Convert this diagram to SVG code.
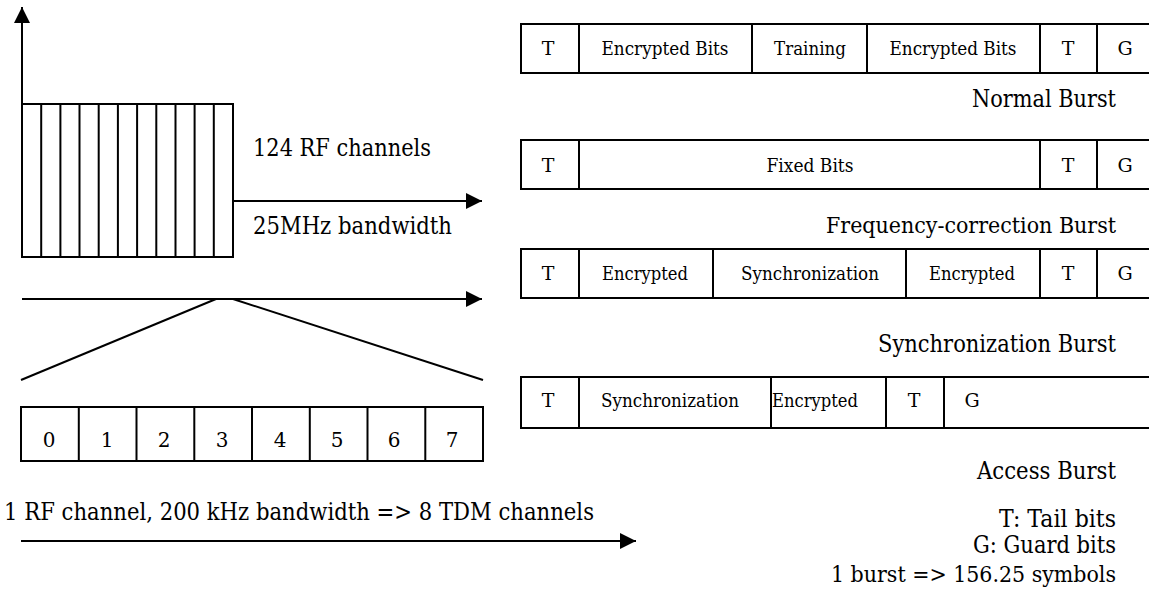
<svg xmlns="http://www.w3.org/2000/svg" width="1149" height="600" viewBox="0 0 1149 600">
<defs>
<style>
.ln{stroke:#000;stroke-width:2;fill:none}
.bx{stroke:#000;stroke-width:2;fill:#fff}
text{font-family:'DejaVu Serif',serif;fill:#000}
.big{font-size:23.5px}
.cell{font-size:19px;text-anchor:middle}
.dig{font-size:20px;text-anchor:middle}
.r{text-anchor:end}
</style>
<marker id="ah" markerUnits="userSpaceOnUse" markerWidth="16" markerHeight="16" refX="16" refY="8" orient="auto">
<path d="M0,0 L16,8 L0,16 z" fill="#000"/>
</marker>
</defs>
<rect width="1149" height="600" fill="#fff"/>

<g id="connectors">
<line class="ln" x1="22" y1="104" x2="22" y2="7" marker-end="url(#ah)"/>
<line class="ln" x1="233" y1="201" x2="482" y2="201" marker-end="url(#ah)"/>
<line class="ln" x1="22" y1="299" x2="482" y2="299" marker-end="url(#ah)"/>
<line class="ln" x1="216" y1="299" x2="21" y2="380"/>
<line class="ln" x1="233" y1="299" x2="483" y2="380"/>
<line class="ln" x1="21" y1="541" x2="636" y2="541" marker-end="url(#ah)"/>
</g>

<g id="rf-channels">
<rect class="bx" x="22" y="104" width="211" height="153"/>
<path class="ln" d="M41.2,104V257M60.4,104V257M79.5,104V257M98.7,104V257M117.9,104V257M137.1,104V257M156.3,104V257M175.5,104V257M194.6,104V257M213.8,104V257"/>
<text class="big" x="253" y="156" textLength="178" lengthAdjust="spacingAndGlyphs">124 RF channels</text>
<text class="big" x="253" y="234" textLength="199" lengthAdjust="spacingAndGlyphs">25MHz bandwidth</text>
</g>

<g id="tdm-slots">
<rect class="bx" x="21" y="407" width="462" height="54"/>
<path class="ln" d="M78.8,407V461M136.5,407V461M194.3,407V461M252,407V461M309.8,407V461M367.5,407V461M425.3,407V461"/>
<text class="dig" x="49" y="447">0</text>
<text class="dig" x="107" y="447">1</text>
<text class="dig" x="164" y="447">2</text>
<text class="dig" x="222" y="447">3</text>
<text class="dig" x="280" y="447">4</text>
<text class="dig" x="337" y="447">5</text>
<text class="dig" x="394" y="447">6</text>
<text class="dig" x="452" y="447">7</text>
<text class="big" x="4" y="520" textLength="590" lengthAdjust="spacingAndGlyphs">1 RF channel, 200 kHz bandwidth =&gt; 8 TDM channels</text>
</g>

<g id="normal-burst">
<path class="ln" d="M1149,24H521V73H1149M579,24V73M752,24V73M867,24V73M1040,24V73M1097,24V73"/>
<text class="cell" x="548" y="55">T</text>
<text class="cell" x="665" y="55" textLength="127" lengthAdjust="spacingAndGlyphs">Encrypted Bits</text>
<text class="cell" x="810" y="55" textLength="72" lengthAdjust="spacingAndGlyphs">Training</text>
<text class="cell" x="953" y="55" textLength="127" lengthAdjust="spacingAndGlyphs">Encrypted Bits</text>
<text class="cell" x="1068" y="55">T</text>
<text class="cell" x="1125" y="55">G</text>
<text class="big r" x="1116" y="107" textLength="144" lengthAdjust="spacingAndGlyphs">Normal Burst</text>
</g>

<g id="frequency-correction-burst">
<path class="ln" d="M1149,140H521V189H1149M579,140V189M1040,140V189M1097,140V189"/>
<text class="cell" x="548" y="172">T</text>
<text class="cell" x="810" y="172" textLength="87" lengthAdjust="spacingAndGlyphs">Fixed Bits</text>
<text class="cell" x="1068" y="172">T</text>
<text class="cell" x="1125" y="172">G</text>
<text class="r" x="1116" y="233" font-size="22.5" textLength="290" lengthAdjust="spacingAndGlyphs">Frequency-correction Burst</text>
</g>

<g id="synchronization-burst">
<path class="ln" d="M1149,249H521V298H1149M579,249V298M713,249V298M906,249V298M1040,249V298M1097,249V298"/>
<text class="cell" x="548" y="280">T</text>
<text class="cell" x="645" y="280" textLength="86" lengthAdjust="spacingAndGlyphs">Encrypted</text>
<text class="cell" x="810" y="280" textLength="138" lengthAdjust="spacingAndGlyphs">Synchronization</text>
<text class="cell" x="972" y="280" textLength="86" lengthAdjust="spacingAndGlyphs">Encrypted</text>
<text class="cell" x="1068" y="280">T</text>
<text class="cell" x="1125" y="280">G</text>
<text class="big r" x="1116" y="352" textLength="238" lengthAdjust="spacingAndGlyphs">Synchronization Burst</text>
</g>

<g id="access-burst">
<path class="ln" d="M1149,377H521V428H1149M579,377V428M771,377V428M886,377V428M944,377V428"/>
<text class="cell" x="548" y="407">T</text>
<text class="cell" x="670" y="407" textLength="138" lengthAdjust="spacingAndGlyphs">Synchronization</text>
<text class="cell" x="772" y="407" style="text-anchor:start" textLength="86" lengthAdjust="spacingAndGlyphs">Encrypted</text>
<text class="cell" x="914" y="407">T</text>
<text class="cell" x="972" y="407">G</text>
<text class="big r" x="1116" y="479" textLength="139" lengthAdjust="spacingAndGlyphs">Access Burst</text>
</g>

<g id="legend">
<text class="big r" x="1116" y="527" textLength="117" lengthAdjust="spacingAndGlyphs">T: Tail bits</text>
<text class="big r" x="1116" y="553" textLength="143" lengthAdjust="spacingAndGlyphs">G: Guard bits</text>
<text class="r" x="1116" y="582" font-size="22.5" textLength="285" lengthAdjust="spacingAndGlyphs">1 burst =&gt; 156.25 symbols</text>
</g>
</svg>
